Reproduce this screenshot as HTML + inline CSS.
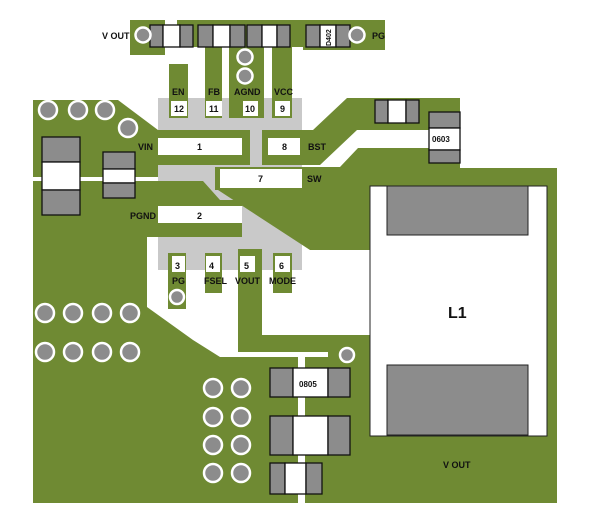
<!DOCTYPE html>
<html><head><style>
html,body{margin:0;padding:0;background:#fff;width:600px;height:515px;overflow:hidden}
svg{display:block}
text{font-family:"Liberation Sans",sans-serif;font-weight:bold;fill:#111}
</style></head><body>
<svg width="600" height="515" viewBox="0 0 600 515" xmlns="http://www.w3.org/2000/svg">
<!-- IC body -->
<rect x="158" y="98" width="144" height="172" fill="#c9c9c9"/>
<g fill="#6f8a33">
<!-- top strip -->
<rect x="130" y="20" width="35" height="35"/>
<rect x="177" y="20" width="128" height="27"/>
<rect x="303" y="20" width="82" height="30"/>
<rect x="205" y="40" width="17" height="78"/>
<rect x="229" y="40" width="35" height="78"/>
<rect x="272" y="40" width="20" height="78"/>
<rect x="169" y="64" width="19" height="54"/>
<!-- VIN region -->
<polygon points="33,100 118,100 158,130 250,130 250,165 158,165 158,177 33,177"/>
<!-- BST -->
<polygon points="262,130 313,130 347,98 460,98 460,130 357,130 320,165 262,165"/>
<!-- SW region -->
<polygon points="215,167 340,167 358,148 460,148 460,168 557,168 557,260 370,260 370,250 310,250 218,190 215,190"/>
<!-- PGND / left region -->
<polygon points="33,181 203,181 220,200 242,200 242,237 147,237 147,307 193,340 220,357 298,357 298,503 33,503"/>
<!-- bottom pin traces -->
<rect x="168" y="253" width="18" height="56"/>
<rect x="205" y="253" width="17" height="40"/>
<rect x="238" y="249" width="24" height="103"/>
<rect x="273" y="253" width="19" height="40"/>
<rect x="238" y="335" width="140" height="17"/>
<!-- right region -->
<rect x="328" y="335" width="229" height="168"/>
<rect x="305" y="357" width="30" height="146"/>
<rect x="370" y="250" width="187" height="253"/>
</g>
<!-- pad boxes -->
<g fill="#fff">
<rect x="171" y="101" width="16" height="15"/><rect x="206" y="101" width="16" height="15"/>
<rect x="243" y="101" width="15" height="15"/><rect x="275" y="101" width="15" height="15"/>
<rect x="158" y="138" width="84" height="17"/><rect x="268" y="138" width="32" height="17"/>
<rect x="220" y="169" width="82" height="19"/><rect x="158" y="206" width="84" height="17"/>
<rect x="172" y="256" width="13" height="16"/><rect x="206" y="256" width="14" height="16"/>
<rect x="240" y="256" width="15" height="16"/><rect x="275" y="256" width="15" height="16"/>
</g>
<!-- L1 -->
<rect x="370" y="186" width="177" height="250" fill="#fff" stroke="#222"/>
<rect x="387" y="186" width="141" height="49" fill="#8c8c8c" stroke="#222"/>
<rect x="387" y="365" width="141" height="70" fill="#8c8c8c" stroke="#222"/>
<!-- components -->
<g stroke="#111" stroke-width="1.3">
<rect x="150" y="25" width="13" height="22" fill="#8c8c8c"/><rect x="163" y="25" width="17" height="22" fill="#fff"/><rect x="180" y="25" width="13" height="22" fill="#8c8c8c"/>
<rect x="198" y="25" width="15" height="22" fill="#8c8c8c"/><rect x="213" y="25" width="17" height="22" fill="#fff"/><rect x="230" y="25" width="15" height="22" fill="#8c8c8c"/>
<rect x="247" y="25" width="15" height="22" fill="#8c8c8c"/><rect x="262" y="25" width="15" height="22" fill="#fff"/><rect x="277" y="25" width="13" height="22" fill="#8c8c8c"/>
<rect x="306" y="25" width="14" height="22" fill="#8c8c8c"/><rect x="320" y="25" width="16" height="22" fill="#fff"/><rect x="336" y="25" width="14" height="22" fill="#8c8c8c"/>
<rect x="375" y="100" width="13" height="23" fill="#8c8c8c"/><rect x="388" y="100" width="18" height="23" fill="#fff"/><rect x="406" y="100" width="13" height="23" fill="#8c8c8c"/>
<rect x="429" y="112" width="31" height="16" fill="#8c8c8c"/><rect x="429" y="128" width="31" height="22" fill="#fff"/><rect x="429" y="150" width="31" height="13" fill="#8c8c8c"/>
<rect x="42" y="137" width="38" height="25" fill="#8c8c8c"/><rect x="42" y="162" width="38" height="28" fill="#fff"/><rect x="42" y="190" width="38" height="25" fill="#8c8c8c"/>
<rect x="103" y="152" width="32" height="17" fill="#8c8c8c"/><rect x="103" y="169" width="32" height="14" fill="#fff"/><rect x="103" y="183" width="32" height="15" fill="#8c8c8c"/>
<rect x="270" y="368" width="23" height="29" fill="#8c8c8c"/><rect x="293" y="368" width="35" height="29" fill="#fff"/><rect x="328" y="368" width="22" height="29" fill="#8c8c8c"/>
<rect x="270" y="416" width="23" height="39" fill="#8c8c8c"/><rect x="293" y="416" width="35" height="39" fill="#fff"/><rect x="328" y="416" width="22" height="39" fill="#8c8c8c"/>
<rect x="270" y="463" width="15" height="31" fill="#8c8c8c"/><rect x="285" y="463" width="21" height="31" fill="#fff"/><rect x="306" y="463" width="16" height="31" fill="#8c8c8c"/>
</g>
<!-- vias -->
<g fill="#8c8c8c" stroke="#fff" stroke-width="2.5">
<circle cx="143" cy="35" r="7.5"/><circle cx="357" cy="35" r="7.5"/>
<circle cx="245" cy="57" r="7.5"/><circle cx="245" cy="76" r="7.5"/>
<circle cx="48" cy="110" r="9"/><circle cx="78" cy="110" r="9"/><circle cx="105" cy="110" r="9"/><circle cx="128" cy="128" r="9"/>
<circle cx="177" cy="297" r="7"/><circle cx="347" cy="355" r="7"/>
<circle cx="45" cy="313" r="9"/><circle cx="73" cy="313" r="9"/><circle cx="102" cy="313" r="9"/><circle cx="130" cy="313" r="9"/>
<circle cx="45" cy="352" r="9"/><circle cx="73" cy="352" r="9"/><circle cx="102" cy="352" r="9"/><circle cx="130" cy="352" r="9"/>
<circle cx="213" cy="388" r="9"/><circle cx="241" cy="388" r="9"/><circle cx="213" cy="417" r="9"/><circle cx="241" cy="417" r="9"/>
<circle cx="213" cy="445" r="9"/><circle cx="241" cy="445" r="9"/><circle cx="213" cy="473" r="9"/><circle cx="241" cy="473" r="9"/>
</g>
<!-- labels -->
<g font-size="9">
<text x="102" y="39">V OUT</text><text x="372" y="39">PG</text>
<text x="172" y="95">EN</text><text x="208" y="95">FB</text><text x="234" y="95">AGND</text><text x="274" y="95">VCC</text>
<text x="174" y="112" font-weight="normal">12</text><text x="209" y="112" font-weight="normal">11</text><text x="245" y="112" font-weight="normal">10</text><text x="280" y="112">9</text>
<text x="138" y="150">VIN</text><text x="197" y="150" font-weight="normal">1</text>
<text x="282" y="150">8</text><text x="308" y="150">BST</text>
<text x="258" y="182">7</text><text x="307" y="182">SW</text>
<text x="130" y="219">PGND</text><text x="197" y="219">2</text>
<text x="175" y="269" font-weight="normal">3</text><text x="209" y="269" font-weight="normal">4</text><text x="244" y="269" font-weight="normal">5</text><text x="279" y="269" font-weight="normal">6</text>
<text x="172" y="284">PG</text><text x="204" y="284">FSEL</text><text x="235" y="284">VOUT</text><text x="269" y="284">MODE</text>
<text x="432" y="142" font-size="8">0603</text>
<text x="299" y="387" font-size="8">0805</text>
<text x="443" y="468" font-weight="normal">V OUT</text>
<text transform="translate(331,46) rotate(-90)" font-size="7">D402</text>
</g>
<text x="448" y="318" font-size="16" font-weight="normal">L1</text>
</svg>
</body></html>
